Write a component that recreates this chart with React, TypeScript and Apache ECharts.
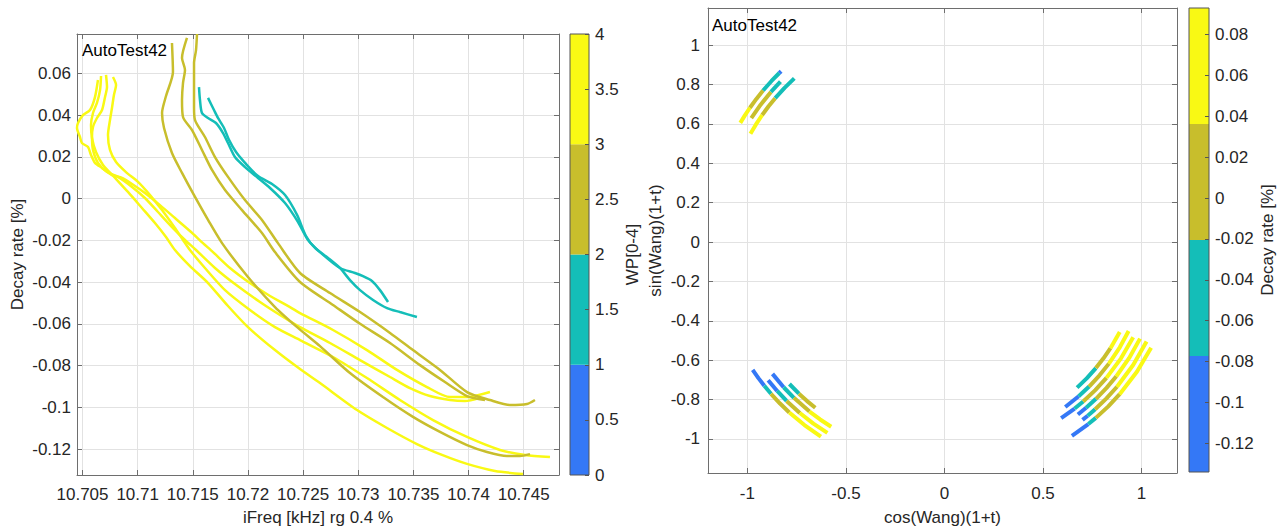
import React, { useEffect, useRef } from "react";
import * as echarts from "echarts";

const FONT = "'Liberation Sans', Arial, Helvetica, sans-serif";
const TEXT = "#262626";
const AXIS = "#6e6e6e";
const GRIDC = "#e2e2e2";
const BLUE = "#3478F6";
const TEAL = "#14BEB8";
const OLIVE = "#C8BE2C";
const YELLOW = "#F9F914";
const BIN_COLORS = [BLUE, TEAL, OLIVE, YELLOW];

// ---------- left plot: iFreq vs decay rate, coloured by WP ----------
const y1Freq = [10.7064, 10.70613, 10.70568, 10.70504, 10.70459, 10.7045, 10.70477, 10.70495, 10.7055, 10.70577, 10.70613, 10.70677, 10.70767, 10.70858, 10.70949, 10.71066, 10.71202, 10.71338, 10.71474, 10.71592, 10.71683, 10.71837, 10.72018, 10.722, 10.72381, 10.72472, 10.72771, 10.73079, 10.73351, 10.73623, 10.73832, 10.73986, 10.74194];
const y1Decay = [0.0568, 0.0486, 0.0424, 0.04, 0.0362, 0.0338, 0.0295, 0.0266, 0.0247, 0.0209, 0.0171, 0.0147, 0.0113, 0.0099, 0.007, 0.0027, -0.0031, -0.0093, -0.0155, -0.0213, -0.0256, -0.0332, -0.0404, -0.0466, -0.0519, -0.0548, -0.0629, -0.0725, -0.082, -0.0902, -0.095, -0.095, -0.0926];
const y2Freq = [10.70713, 10.70722, 10.70704, 10.70677, 10.70631, 10.70595, 10.70586, 10.70595, 10.7064, 10.70722, 10.70822, 10.70949, 10.71066, 10.71184, 10.71311, 10.71429, 10.71529, 10.71701, 10.71882, 10.72109, 10.7229, 10.72472, 10.72744, 10.73016, 10.73288, 10.73469, 10.7365, 10.73832, 10.73968, 10.74104];
const y2Decay = [0.0592, 0.0534, 0.0486, 0.0424, 0.0386, 0.0343, 0.0295, 0.0233, 0.0171, 0.0127, 0.0104, 0.0056, 0.0003, -0.0064, -0.0136, -0.0198, -0.0246, -0.0332, -0.0409, -0.0495, -0.0557, -0.0615, -0.0691, -0.0773, -0.0854, -0.0907, -0.0945, -0.0964, -0.0969, -0.0954];
const y3Freq = [10.70776, 10.70804, 10.70785, 10.70767, 10.70749, 10.70731, 10.70749, 10.70804, 10.70894, 10.71003, 10.71112, 10.71221, 10.71338, 10.71411, 10.71474, 10.7161, 10.71792, 10.72018, 10.72245, 10.72472, 10.72771, 10.73079, 10.73378, 10.73678, 10.73986, 10.74285, 10.74512, 10.74738];
const y3Decay = [0.0582, 0.0544, 0.0496, 0.0434, 0.0376, 0.0305, 0.0233, 0.0175, 0.0127, 0.008, 0.0017, -0.0055, -0.0141, -0.0198, -0.0246, -0.0332, -0.0438, -0.0533, -0.0615, -0.0677, -0.0758, -0.0859, -0.0964, -0.106, -0.1141, -0.1203, -0.1227, -0.1237];
const y4Freq = [10.70668, 10.70659, 10.70631, 10.70595, 10.70577, 10.70586, 10.70622, 10.70686, 10.70795, 10.70912, 10.71039, 10.71157, 10.71257, 10.71338, 10.71474, 10.71638, 10.71819, 10.72, 10.72245, 10.72472, 10.72653, 10.72989, 10.73261, 10.73532, 10.73759, 10.73986, 10.7424, 10.74493];
const y4Decay = [0.0587, 0.052, 0.0458, 0.041, 0.0352, 0.029, 0.0223, 0.0161, 0.0099, 0.0032, -0.0045, -0.0117, -0.0184, -0.0246, -0.0323, -0.0404, -0.0514, -0.0615, -0.0725, -0.0816, -0.0883, -0.1012, -0.1098, -0.1175, -0.1227, -0.127, -0.1304, -0.1318];
const o1Freq = [10.71311, 10.7132, 10.71257, 10.71221, 10.71239, 10.71311, 10.71402, 10.7152, 10.71638, 10.71765, 10.72, 10.72245, 10.72454, 10.72653, 10.72925, 10.73224, 10.73496, 10.73741, 10.73986, 10.74167, 10.74348, 10.74466, 10.74557];
const o1Decay = [0.0745, 0.0606, 0.0491, 0.041, 0.0338, 0.0218, 0.0123, 0.0008, -0.0102, -0.0213, -0.0375, -0.0519, -0.0619, -0.0706, -0.0835, -0.095, -0.1045, -0.1117, -0.118, -0.1213, -0.1232, -0.1232, -0.1223];
const o2Freq = [10.71447, 10.71402, 10.71429, 10.71411, 10.71402, 10.71411, 10.71493, 10.71583, 10.71674, 10.71792, 10.71946, 10.72127, 10.72245, 10.72472, 10.72771, 10.73016, 10.73288, 10.7356, 10.73786, 10.73986, 10.74149];
const o2Decay = [0.0769, 0.0673, 0.0616, 0.0553, 0.0472, 0.0391, 0.0328, 0.0233, 0.0137, 0.0041, -0.0055, -0.0165, -0.0256, -0.0399, -0.0509, -0.0599, -0.0691, -0.0797, -0.0878, -0.0945, -0.0964];
const o3Freq = [10.71538, 10.71529, 10.71511, 10.71511, 10.71511, 10.7152, 10.7161, 10.71701, 10.71819, 10.71973, 10.72127, 10.72272, 10.72472, 10.72744, 10.73016, 10.73288, 10.73496, 10.73741, 10.73986, 10.74194, 10.74376, 10.7453, 10.74602];
const o3Decay = [0.0788, 0.0711, 0.0649, 0.0568, 0.0439, 0.0376, 0.0295, 0.0199, 0.0104, -0.0007, -0.0102, -0.0213, -0.0356, -0.0452, -0.0543, -0.0643, -0.0725, -0.082, -0.0926, -0.0964, -0.0988, -0.0983, -0.0964];
const t1Freq = [10.71556, 10.71565, 10.71583, 10.71638, 10.7171, 10.71774, 10.71819, 10.71882, 10.71973, 10.72091, 10.722, 10.72336, 10.72454, 10.72544, 10.72653, 10.72834, 10.7297, 10.73043, 10.73124, 10.73197, 10.7327];
const t1Decay = [0.0534, 0.0472, 0.041, 0.0386, 0.0362, 0.0314, 0.0266, 0.0199, 0.0151, 0.0099, 0.0051, -0.0021, -0.0112, -0.0198, -0.0256, -0.0332, -0.0356, -0.0371, -0.0394, -0.0438, -0.0495];
const t2Freq = [10.71638, 10.71692, 10.71728, 10.71783, 10.71828, 10.71892, 10.71982, 10.72091, 10.72218, 10.72336, 10.72445, 10.72526, 10.72608, 10.72726, 10.72834, 10.72925, 10.73016, 10.73134, 10.73261, 10.73378, 10.73532];
const t2Decay = [0.0482, 0.0424, 0.0386, 0.0338, 0.0281, 0.0223, 0.0166, 0.0108, 0.007, 0.0017, -0.0078, -0.0179, -0.0236, -0.0284, -0.0332, -0.039, -0.0438, -0.0485, -0.0524, -0.0543, -0.0567];

const curveFreq = [y1Freq, y2Freq, y3Freq, y4Freq, o1Freq, o2Freq, o3Freq, t1Freq, t2Freq];
const curveDecay = [y1Decay, y2Decay, y3Decay, y4Decay, o1Decay, o2Decay, o3Decay, t1Decay, t2Decay];
const curveWP = [3.5, 3.5, 3.5, 3.5, 2.5, 2.5, 2.5, 1.5, 1.5];

const wpEdges = [0, 1, 2, 3, 4];

// ---------- right plot: cos/sin(Wang)(1+t), coloured by decay rate ----------
const decayMin = -0.134;
const decayMax = 0.093;
const arcRadius = [1.2, 1.165, 1.128, 1.17, 1.137, 1.1, 1.067, 1.0, 1.038, 1.073, 1.107, 1.143, 1.178];
const arcWang = [
  [149.7, 147.5, 145.35, 142.7, 140.1, 137.0, 134.3, 133.7],
  [147.3, 143.2, 139.1, 135.6],
  [150.8, 148.0, 145.1, 142.3, 139.6, 136.0, 132.5],
  [213.7, 216.2, 218.6, 221.2, 224.5, 227.7, 232.6, 237.6],
  [218.1, 221.7, 225.2, 229.8, 234.2, 238.5],
  [217.5, 222.1, 226.0, 231.5, 235.0, 238.5],
  [222.5, 226.2, 229.2, 232.1],
  [-47.7, -43.7, -39.8, -36.2, -32.6, -27.2],
  [-53.8, -49.0, -45.0, -40.7, -36.5, -31.0, -25.8],
  [-56.5, -52.0, -49.0, -44.5, -40.0, -33.4, -26.8],
  [-52.3, -49.5, -46.0, -42.0, -38.0, -32.2, -26.3],
  [-52.2, -50.5, -48.0, -44.0, -40.0, -33.1, -26.2],
  [-56.7, -51.7, -49.3, -45.1, -41.0, -34.0, -27.1],
];
const arcDecay = [
  [0.055, 0.045, 0.03, 0.01, -0.03, -0.05, -0.08, -0.085],
  [0.02, 0.0, -0.04, -0.06],
  [0.06, 0.045, 0.025, 0.005, -0.035, -0.055, -0.07],
  [-0.115, -0.095, -0.06, 0.015, 0.0, 0.05, 0.065, 0.075],
  [-0.1, -0.05, 0.01, 0.05, 0.06, 0.07],
  [-0.095, -0.045, 0.005, 0.045, 0.055, 0.065],
  [-0.04, 0.01, 0.02, 0.03],
  [-0.05, -0.035, 0.0, 0.02, 0.05, 0.07],
  [-0.1, -0.05, 0.0, 0.02, 0.05, 0.065, 0.08],
  [-0.11, -0.06, -0.01, 0.015, 0.045, 0.06, 0.075],
  [-0.1, -0.05, 0.0, 0.02, 0.05, 0.065, 0.08],
  [-0.09, -0.04, 0.005, 0.025, 0.055, 0.07, 0.085],
  [-0.125, -0.06, -0.005, 0.02, 0.05, 0.07, 0.09],
];

const q = (decayMax - decayMin) / 4;
const decayEdges = [decayMin, decayMin + q, decayMin + 2 * q, decayMin + 3 * q, decayMax];

function binOf(v: number, edges: number[]) {
  for (let i = 0; i < 4; i++) if (v < edges[i + 1]) return i;
  return 3;
}

const fmt = (v: number) => String(parseFloat(Number(v).toFixed(6)));

function mainAxes(grid: number, min: number, max: number, split: number, kind: "x" | "y", name: string, nameGap: number, margin: number) {
  const common = {
    gridIndex: grid,
    type: "value",
    min,
    max,
    splitNumber: split,
    axisLine: { show: true, onZero: false, lineStyle: { color: AXIS, width: 1 } },
    axisTick: { show: true, inside: true, length: 5, lineStyle: { color: AXIS } },
  };
  const primary = {
    ...common,
    position: kind === "x" ? "bottom" : "left",
    name,
    nameLocation: "middle",
    nameGap,
    nameRotate: kind === "y" ? 90 : 0,
    nameTextStyle: { color: TEXT, fontSize: 17, fontFamily: FONT },
    axisLabel: {
      show: true,
      color: TEXT,
      fontSize: 17,
      fontFamily: FONT,
      margin,
      showMinLabel: false,
      showMaxLabel: false,
      formatter: fmt,
    },
    splitLine: { show: true, lineStyle: { color: GRIDC, width: 1 } },
  };
  const secondary = {
    ...common,
    position: kind === "x" ? "top" : "right",
    axisLabel: { show: false },
    splitLine: { show: false },
  };
  return [primary, secondary];
}

function cbAxes(grid: number, min: number, max: number, opts: any, labelOpts: any, name: string, nameGap: number) {
  const x = { gridIndex: grid, type: "value", min: 0, max: 1, show: false };
  const y = {
    gridIndex: grid,
    type: "value",
    min,
    max,
    ...opts,
    position: "right",
    z: 10,
    name,
    nameLocation: "middle",
    nameGap,
    nameRotate: 90,
    nameTextStyle: { color: TEXT, fontSize: 17, fontFamily: FONT },
    axisLine: { show: false, onZero: false },
    axisTick: { show: true, inside: true, length: 4, lineStyle: { color: "#555" } },
    axisLabel: { color: TEXT, fontSize: 17, fontFamily: FONT, margin: 6, formatter: fmt, ...labelOpts },
    splitLine: { show: false },
  };
  return { x, y };
}

function colorbarSeries(axisIndex: number, edges: number[]) {
  const data: number[][] = [];
  for (let i = 0; i < 4; i++) data.push([0, edges[i], edges[i + 1], i]);
  data.push([0, edges[0], edges[4], -1]);
  return {
    type: "custom",
    xAxisIndex: axisIndex,
    yAxisIndex: axisIndex,
    silent: true,
    clip: false,
    encode: { x: 0, y: [1, 2] },
    data,
    renderItem: (_p: any, api: any) => {
      const lo = api.value(1);
      const hi = api.value(2);
      const ci = api.value(3);
      const p0 = api.coord([0, lo]);
      const p1 = api.coord([1, hi]);
      return {
        type: "rect",
        shape: { x: p0[0], y: p1[1], width: p1[0] - p0[0], height: p0[1] - p1[1] },
        style: ci < 0 ? { fill: "none", stroke: "#555", lineWidth: 1 } : { fill: BIN_COLORS[ci] },
        z2: ci < 0 ? 10 : 1,
      };
    },
  };
}

export default function App() {
  const ref = useRef<HTMLDivElement>(null);
  useEffect(() => {
    document.body.style.margin = "0";
    if (!ref.current) return;
    const chart = echarts.init(ref.current, null, { renderer: "svg" });

    const [lx, lx2] = mainAxes(0, 10.7045, 10.7482, 9, "x", "iFreq [kHz] rg 0.4 %", 34, 11);
    const [ly, ly2] = mainAxes(0, -0.1323, 0.0788, 10, "y", "Decay rate [%]", 51, 6);
    const [rx, rx2] = mainAxes(2, -1.2, 1.18, 5, "x", "cos(Wang)(1+t)", 36, 12);
    const [ry, ry2] = mainAxes(2, -1.173, 1.189, 12, "y", "sin(Wang)(1+t)", 44, 8);
    const cb1 = cbAxes(1, 0, 4, { interval: 0.5 }, {}, "WP[0-4]", 35);
    const cb2 = cbAxes(3, decayMin, decayMax, { splitNumber: 11 }, { showMinLabel: false, showMaxLabel: false }, "Decay rate [%]", 50);

    const leftSeries = curveFreq.map((fr, k) => ({
      type: "line",
      xAxisIndex: 0,
      yAxisIndex: 0,
      data: fr.map((f, i) => [f, curveDecay[k][i]]),
      symbol: "none",
      smooth: 0.25,
      silent: true,
      lineStyle: { color: BIN_COLORS[binOf(curveWP[k], wpEdges)], width: 2.5 },
    }));

    const arcSeries: any[] = [];
    arcRadius.forEach((r, k) => {
      const ang = arcWang[k];
      const dec = arcDecay[k];
      let run: any = null;
      for (let i = 0; i < ang.length - 1; i++) {
        const c = binOf(dec[i], decayEdges);
        const a0 = (ang[i] * Math.PI) / 180;
        const a1 = (ang[i + 1] * Math.PI) / 180;
        const p0 = [Math.cos(a0) * r, Math.sin(a0) * r];
        const p1 = [Math.cos(a1) * r, Math.sin(a1) * r];
        if (run && run.c === c) run.pts.push(p1);
        else {
          run = { c, pts: [p0, p1] };
          arcSeries.push(run);
        }
      }
    });

    const rightSeries = arcSeries.map((run) => ({
      type: "line",
      xAxisIndex: 3,
      yAxisIndex: 3,
      data: run.pts,
      symbol: "none",
      silent: true,
      lineStyle: { color: BIN_COLORS[run.c], width: 4, cap: "butt" },
    }));

    const textStyle = (txt: string) => ({
      text: txt,
      fontSize: 17,
      fontFamily: FONT,
      fill: "#000",
      align: "left",
      verticalAlign: "middle",
      textAlign: "left",
      textVerticalAlign: "middle",
    });

    chart.setOption({
      animation: false,
      backgroundColor: "#fff",
      grid: [
        { left: 77, top: 34, width: 482, height: 441 },
        { left: 570, top: 34, width: 19, height: 441 },
        { left: 708, top: 8, width: 469, height: 465 },
        { left: 1189, top: 8, width: 20, height: 464 },
      ],
      xAxis: [lx, lx2, cb1.x, rx, rx2, cb2.x],
      yAxis: [ly, ly2, cb1.y, ry, ry2, cb2.y],
      graphic: [
        { type: "text", x: 82, y: 50.5, z: 100, style: textStyle("AutoTest42") },
        { type: "text", x: 712, y: 25, z: 100, style: textStyle("AutoTest42") },
      ],
      series: [...leftSeries, ...rightSeries, colorbarSeries(2, wpEdges), colorbarSeries(5, decayEdges)],
    });
    return () => chart.dispose();
  }, []);
  return <div ref={ref} style={{ width: 1284, height: 531 }} />;
}
